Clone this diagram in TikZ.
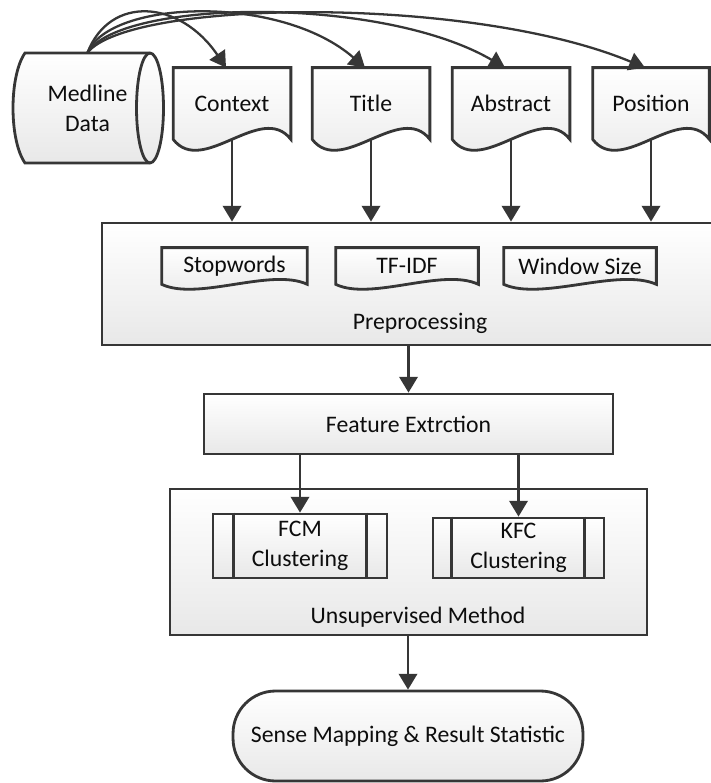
\documentclass[tikz,border=0pt]{standalone}
\usepackage{fontspec}
\setmainfont{Carlito}
\usepackage{xcolor}
\usetikzlibrary{arrows.meta,calc}
\definecolor{lnclr}{HTML}{363636}
\pgfdeclarelayer{bg}
\pgfdeclarelayer{mid}
\pgfsetlayers{bg,mid,main}

\tikzset{
  shapeline/.style={draw=lnclr, line width=1.6pt, top color=white, bottom color=black!9},
  flow/.style={draw=lnclr, line width=1.3pt, -{Triangle[length=9pt,width=10.5pt]}},
  txt/.style={font=\fontsize{13.5}{17}\selectfont, text=black!95, align=center, inner sep=0pt},
  docnode/.style={txt, minimum height=1.42cm},
  smalldoc/.style={txt, minimum height=0.72cm},
}

% outline of a document shape round node #1, wave height #2
\newcommand{\docpath}[2]{%
  \path[shapeline] (#1.north west) -- (#1.north east) -- (#1.south east)
    .. controls ($(#1.south east)!0.25!(#1.south west)+(0,-#2)$) and ($(#1.south east)!0.75!(#1.south west)+(0,#2)$) .. (#1.south west) -- cycle;}

\begin{document}
\begin{tikzpicture}[x=0.02cm, y=-0.02cm]
\useasboundingbox (0,0) rectangle (710,783);

%medline data
\node[txt, minimum width=2.5cm, minimum height=2.2cm] (med) at (87.5,108) {Medline\\Data};
\begin{pgfonlayer}{mid}
\path[shapeline] (25,53) -- (150,53) .. controls (157.5,53) and (163.5,77.6) .. (163.5,108)
  .. controls (163.5,138.4) and (157.5,163) .. (150,163) -- (25,163)
  .. controls (9,140) and (9,76) .. (25,53) -- cycle;
\draw[draw=lnclr, line width=1.6pt] (150,53) .. controls (142.5,53) and (136.5,77.6) .. (136.5,108)
  .. controls (136.5,138.4) and (142.5,163) .. (150,163);
\end{pgfonlayer}

%documents
\node[docnode, minimum width=2.34cm] (ctx) at (232,103.5) {Context};
\node[docnode, minimum width=2.34cm] (ttl) at (371,103.5) {Title};
\node[docnode, minimum width=2.34cm] (abs) at (511,103.5) {Abstract};
\node[docnode, minimum width=2.32cm] (pos) at (651,103.5) {Position};
\begin{pgfonlayer}{mid}
\foreach \n in {ctx,ttl,abs,pos} {\docpath{\n}{38}}
\end{pgfonlayer}

%arcs from medline
\draw[flow] (med.north) .. controls +(22.5,-58) and +(-46,-68) .. ([xshift=-0.12cm]ctx.north);
\draw[flow] (med.north) .. controls +(22.5,-53) and +(-85,-74) .. ([xshift=-0.12cm]ttl.north);
\draw[flow] (med.north) .. controls +(32,-53) and +(-125,-73) .. ([xshift=-0.12cm]abs.north);
\draw[flow] (med.north) .. controls +(42,-53) and +(-175,-73) .. ([xshift=-0.12cm]pos.north);

%preprocessing
\begin{pgfonlayer}{bg}
\node[shapeline, minimum width=12.36cm, minimum height=2.44cm] (pre) at (411,284) {};
\node[shapeline, minimum width=9.54cm, minimum height=2.92cm] (unsup) at (408.5,562) {};
\end{pgfonlayer}
\node[txt] (prelbl) at (420,323) {Preprocessing};
\node[smalldoc, minimum width=2.9cm] (stop) at (234.5,266) {Stopwords};
\node[smalldoc, minimum width=2.84cm] (tfidf) at (407,266) {TF-IDF};
\node[smalldoc, minimum width=3.04cm] (win) at (580,266) {Window Size};
\begin{pgfonlayer}{mid}
\foreach \n in {stop,tfidf,win} {\docpath{\n}{17}}
\end{pgfonlayer}
\foreach \n in {ctx,ttl,abs,pos} \draw[flow] (\n.south) -- (\n.south |- pre.north);

%feature extraction
\node[txt, shapeline, minimum width=8.18cm, minimum height=1.2cm] (feat) at (408.5,424) {Feature Extrction};
\draw[flow] (feat.north |- pre.south) -- (feat.north);

%unsupervised method
\node[txt] (unslbl) at (418,617) {Unsupervised Method};
\node[txt, shapeline, minimum width=3.48cm, minimum height=1.28cm] (fcm) at (300,546) {FCM\\Clustering};
\node[txt, shapeline, minimum width=3.42cm, minimum height=1.2cm] (kfc) at (518.5,548) {KFC\\Clustering};
\draw[draw=lnclr, line width=1.6pt] ([xshift=0.44cm]fcm.north west) -- ([xshift=0.44cm]fcm.south west)
  ([xshift=-0.44cm]fcm.north east) -- ([xshift=-0.44cm]fcm.south east);
\draw[draw=lnclr, line width=1.6pt] ([xshift=0.4cm]kfc.north west) -- ([xshift=0.4cm]kfc.south west)
  ([xshift=-0.42cm]kfc.north east) -- ([xshift=-0.42cm]kfc.south east);
\draw[flow] (fcm.north |- feat.south) -- (fcm.north);
\draw[flow] (kfc.north |- feat.south) -- (kfc.north);

%sense mapping
\node[txt, shapeline, rounded corners=0.85cm, minimum width=7cm, minimum height=1.8cm] (sense) at (408,736) {Sense Mapping \& Result Statistic};
\draw[flow] (sense.north |- unsup.south) -- (sense.north);
\end{tikzpicture}
\end{document}
